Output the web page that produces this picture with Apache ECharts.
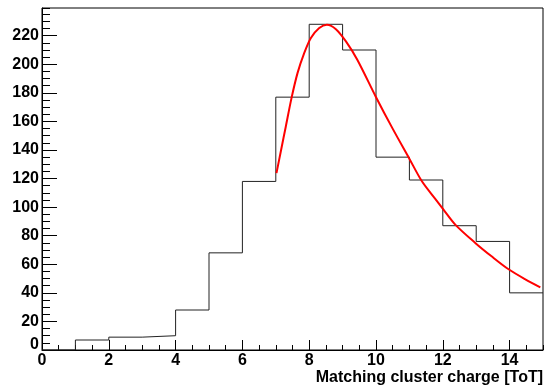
<!DOCTYPE html>
<html>
<head>
<meta charset="utf-8">
<script src="https://cdn.jsdelivr.net/npm/echarts@6/dist/echarts.min.js"></script>
<style>
  html, body { margin: 0; padding: 0; background: #fff; }
  #chart { width: 544px; height: 386px; }
</style>
</head>
<body>
<div id="chart"></div>
<script>
// Histogram bins: lower edges (width 1) and counts
const binLow = [0, 1, 2, 3, 4, 5, 6, 7, 8, 9, 10, 11, 12, 13, 14];
const binCounts = [0, 7, 9, 10, 28, 68, 118, 177, 228, 210, 135, 119, 87, 76, 40];
const histMax = 15;

// Fitted curve, sampled along the charge axis
const fitX = [7.02, 7.16, 7.30, 7.47, 7.65, 7.85, 8.05, 8.30, 8.53, 8.80, 9.10, 9.44, 9.99, 10.49, 10.99, 11.38, 11.78, 12.01, 12.38, 12.98, 13.47, 13.97, 14.47, 14.92];
const fitY = [123.8, 140.2, 156.5, 176.3, 193.8, 207.8, 218.4, 225.4, 227.7, 224.6, 216.0, 203.2, 177.5, 155.3, 134.3, 117.9, 105.6, 98.6, 87.6, 74.8, 65.4, 56.5, 49.5, 43.9];

// Axis ticks
const xMajorStep = 2, xMinorStep = 0.5;
const yMajorStep = 20, yMinorStep = 5;
const yMax = 239.4;
const xTitle = 'Matching cluster charge [ToT]';

const histPoints = binLow.map((x, i) => [x, binCounts[i]]);
histPoints.push([histMax, binCounts[binCounts.length - 1]]);
const fitPoints = fitX.map((x, i) => [x, fitY[i]]);

const font = 'Liberation Sans, Helvetica, Arial, sans-serif';
const labelStyle = { color: '#000', fontFamily: font, fontWeight: 'bold', fontSize: 16 };

const chart = echarts.init(document.getElementById('chart'), null, { renderer: 'canvas' });
chart.setOption({
  animation: false,
  backgroundColor: '#fff',
  grid: { left: 42, right: 1, top: 8, bottom: 36, show: true, borderColor: '#000', borderWidth: 1, backgroundColor: 'transparent' },
  title: {
    text: xTitle, right: 1, bottom: 0, padding: 0,
    textStyle: { color: '#000', fontFamily: font, fontWeight: 'bold', fontSize: 16 }
  },
  xAxis: [
    {
      type: 'value', min: 0, max: histMax, interval: xMajorStep, position: 'bottom',
      axisLine: { show: true, lineStyle: { color: '#000', width: 1 } },
      axisTick: { show: true, inside: true, length: 10, lineStyle: { color: '#000' } },
      axisLabel: Object.assign({ margin: 3, showMaxLabel: false }, labelStyle),
      splitLine: { show: false }
    },
    {
      type: 'value', min: 0, max: histMax, interval: xMinorStep, position: 'bottom',
      axisLine: { show: false },
      axisTick: { show: true, inside: true, length: 5, lineStyle: { color: '#000' } },
      axisLabel: { show: false },
      splitLine: { show: false }
    }
  ],
  yAxis: [
    {
      type: 'value', min: 0, max: yMax, interval: yMajorStep, position: 'left',
      axisLine: { show: true, lineStyle: { color: '#000', width: 1 } },
      axisTick: { show: true, inside: true, length: 15, lineStyle: { color: '#000' } },
      axisLabel: Object.assign({
        margin: 3, showMaxLabel: false,
        formatter: v => v === 0 ? '{z|0}' : String(v),
        rich: { z: { fontFamily: font, fontWeight: 'bold', fontSize: 16, color: '#000', padding: [0, 0, 10, 0] } }
      }, labelStyle),
      splitLine: { show: false }
    },
    {
      type: 'value', min: 0, max: yMax, interval: yMinorStep, position: 'left',
      axisLine: { show: false },
      axisTick: { show: true, inside: true, length: 8, lineStyle: { color: '#000' } },
      axisLabel: { show: false },
      splitLine: { show: false }
    }
  ],
  series: [
    {
      type: 'line', name: 'hist', xAxisIndex: 0, yAxisIndex: 0,
      data: histPoints, step: 'end', symbol: 'none',
      lineStyle: { color: '#222', width: 1 }, z: 3
    },
    {
      type: 'line', name: 'fit', xAxisIndex: 0, yAxisIndex: 0,
      data: fitPoints, smooth: 0.3, symbol: 'none',
      lineStyle: { color: '#ff0000', width: 2 }, z: 4
    }
  ]
});
</script>
</body>
</html>
